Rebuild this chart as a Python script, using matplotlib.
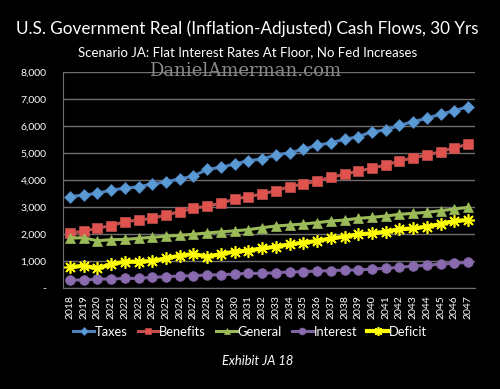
import matplotlib.pyplot as plt
import numpy as np

years = list(range(2018, 2048))
taxes = [3383, 3444, 3506, 3630, 3691, 3753, 3852, 3938, 4037, 4148,
         4395, 4469, 4593, 4716, 4778, 4926, 5012, 5136, 5284, 5383,
         5506, 5605, 5790, 5852, 6025, 6160, 6284, 6444, 6567, 6716]
benefits = [2025, 2111, 2210, 2309, 2457, 2518, 2580, 2704, 2827, 2951,
            3037, 3136, 3296, 3383, 3481, 3605, 3753, 3852, 3963, 4099,
            4210, 4333, 4432, 4556, 4704, 4827, 4926, 5049, 5198, 5321]
general = [1850, 1860, 1750, 1790, 1800, 1840, 1880, 1920, 1950, 1990,
           2040, 2080, 2120, 2160, 2235, 2296, 2333, 2370, 2420, 2481,
           2518, 2580, 2617, 2667, 2728, 2765, 2802, 2864, 2926, 2988]
interest = [296, 296, 333, 333, 358, 358, 395, 420, 444, 457,
            481, 494, 518, 543, 543, 568, 592, 604, 630, 642,
            667, 667, 704, 728, 765, 815, 840, 889, 914, 951]
deficit = [765, 827, 728, 877, 975, 975, 1000, 1099, 1198, 1259,
           1160, 1259, 1346, 1383, 1469, 1531, 1617, 1679, 1741, 1839,
           1901, 1988, 2025, 2086, 2173, 2210, 2272, 2370, 2481, 2518]

yticks = [0, 1000, 2000, 3000, 4000, 5000, 6000, 7000, 8000]
ytick_labels = ["-", "1,000", "2,000", "3,000", "4,000", "5,000", "6,000", "7,000", "8,000"]

plt.rcParams['font.family'] = ['Lato', 'DejaVu Sans']

fig = plt.figure(figsize=(5, 3.89), dpi=100, facecolor="black")
ax = fig.add_axes([0.126, 0.2596, 0.824, 0.5553], facecolor="black")

x = np.arange(len(years))
series = [
    ("Taxes", taxes, "#4f81bd", "D", 6.5, "#5b9bd5"),
    ("Benefits", benefits, "#c0504d", "s", 6.5, "#e0524e"),
    ("General", general, "#9bbb59", "^", 7, "#9bbb59"),
    ("Interest", interest, "#8064a2", "o", 7, "#8a6bb0"),
]
for name, vals, col, mk, ms, mfc in series:
    ax.plot(x, vals, color=col, lw=2.2, marker=mk, ms=ms, mfc=mfc,
            mec=col, mew=0.5, label=name, zorder=3)
ax.plot(x, deficit, color="#ffff00", lw=3, marker=(8, 2, 0), ms=9,
        mec="#ffff00", mew=1.2, label="Deficit", zorder=4)

ax.set_xlim(-0.5, len(years) - 0.5)
ax.set_ylim(0, 8000)
ax.set_yticks(yticks)
ax.set_yticklabels(ytick_labels)
ax.set_xticks(x)
ax.set_xticklabels([str(y) for y in years], rotation=90)
ax.tick_params(axis="both", colors="white", length=0, labelsize=7.5)
ax.tick_params(axis="y", pad=12)
ax.tick_params(axis="x", pad=5)
ax.grid(axis="y", color="#6e6e6e", lw=1)
ax.set_axisbelow(True)
for side in ["top", "right"]:
    ax.spines[side].set_visible(False)
for side in ["left", "bottom"]:
    ax.spines[side].set_color("#6e6e6e")

fig.text(0.495, 0.925, "U.S. Government Real (Inflation-Adjusted) Cash Flows, 30 Yrs",
         color="white", fontsize=12.3, ha="center", va="center")
fig.text(0.495, 0.865, "Scenario JA: Flat Interest Rates At Floor, No Fed Increases",
         color="white", fontsize=9.5, ha="center", va="center")
fig.text(0.49, 0.818, "DanielAmerman.com", color="#8a8a8a", fontsize=13,
         family="DejaVu Serif", ha="center", va="center")

leg = fig.legend(loc="center", bbox_to_anchor=(0.5, 0.147), ncol=5, frameon=False,
                 fontsize=9.3, labelcolor="white", handlelength=1.6,
                 handletextpad=0.05, columnspacing=0.8, markerscale=0.7)

fig.text(0.515, 0.073, "Exhibit JA 18", color="white", fontsize=9.3,
         style="italic", ha="center", va="center")

fig.savefig("out.png", dpi=100, facecolor="black")
